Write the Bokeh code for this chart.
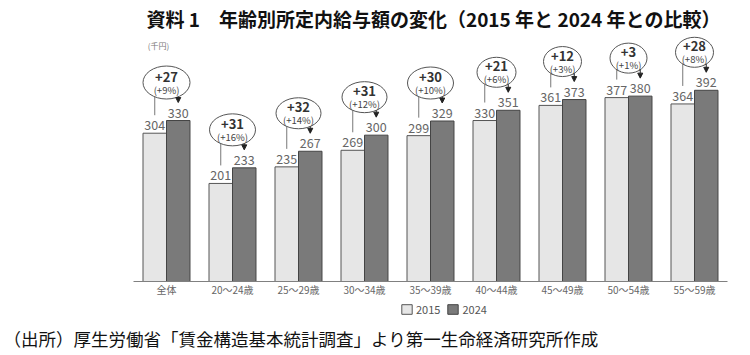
from bokeh.plotting import figure
from bokeh.models import (Range1d, FixedTicker, Label, Legend, LegendItem,
                          ColumnDataSource, Arrow, NormalHead)
from bokeh.embed import file_html
from bokeh.resources import INLINE
from bokeh.core.properties import value

# ---- data ----
categories = ["全体", "20～24歳", "25～29歳", "30～34歳", "35～39歳",
              "40～44歳", "45～49歳", "50～54歳", "55～59歳"]
v2015 = [304, 201, 235, 269, 299, 330, 361, 377, 364]
v2024 = [330, 233, 267, 300, 329, 351, 373, 380, 392]
diff_labels = ["+27", "+31", "+32", "+31", "+30", "+21", "+12", "+3", "+28"]
pct_labels = ["(+9%)", "(+16%)", "(+14%)", "(+12%)", "(+10%)", "(+6%)", "(+3%)", "(+1%)", "(+8%)"]
series_names = ["2015", "2024"]

# ---- styles / layout ----
FONT = "Noto Sans CJK JP"
ell_w = [47, 46, 45, 45, 46, 39, 38, 37, 38]
ell_h = [33, 32, 31, 31, 32, 30, 30, 30, 30]
C15, L15 = "#e6e6e6", "#555555"
C24, L24 = "#7a7a7a", "#444444"

W, H = 750, 355
PLOT_L, PLOT_R = 133, 727        # screen x of category band
BASE_Y = 281                     # screen y (from top) of zero line
n = len(categories)
cat_px = (PLOT_R - PLOT_L) / n
x0 = -0.5 - PLOT_L / cat_px
x1 = x0 + W / cat_px
yscale = 0.4878                  # px per thousand yen
y0 = -(H - BASE_Y) / yscale
y1 = y0 + H / yscale
PX = 1 / yscale                  # data units per pixel
off = 0.178
bw = 0.356

p = figure(width=W, height=H, x_range=Range1d(x0, x1), y_range=Range1d(y0, y1),
           output_backend="svg", toolbar_location=None, y_axis_location=None,
           min_border=0)
p.outline_line_color = None
p.xgrid.visible = False
p.ygrid.visible = False

idx = list(range(n))
x15 = [i - off for i in idx]
x24 = [i + off for i in idx]

r15 = p.vbar(x=x15, top=v2015, width=bw, fill_color=C15, line_color=L15, line_width=1)
r24 = p.vbar(x=x24, top=v2024, width=bw, fill_color=C24, line_color=L24, line_width=1)

# baseline spanning the category band
p.segment(x0=[-0.5], y0=[0], x1=[n - 0.5], y1=[0], line_color="#808080", line_width=1)

# value labels
for xs, vals in ((x15, v2015), (x24, v2024)):
    p.text(x=xs, y=vals, text=[str(v) for v in vals], text_align="center", text_baseline="bottom",
           y_offset=-3, text_font=value(FONT), text_font_size="12.5px", text_color="#666666")

# ellipses with connectors
ey = [v + 38 * PX for v in v2024]
dx_px = off * cat_px
edge = []
for w, h in zip(ell_w, ell_h):
    a, b = w / 2, h / 2
    r = max(0.0, 1 - (dx_px / a) ** 2)
    edge.append(b * r ** 0.5)

p.segment(x0=x15, y0=[v + 18 * PX for v in v2015], x1=x15,
          y1=[c - e * PX for c, e in zip(ey, edge)], line_color="#777777", line_width=1)

asrc = ColumnDataSource(dict(x=x24, y0=[c - e * PX for c, e in zip(ey, edge)],
                             y1=[v + 18 * PX for v in v2024]))
p.add_layout(Arrow(end=NormalHead(size=5, fill_color="#222222", line_color="#222222"),
                   x_start="x", y_start="y0", x_end="x", y_end="y1", source=asrc,
                   line_color="#222222", line_width=1))

p.ellipse(x=idx, y=ey, width=ell_w, height=ell_h, width_units="screen", height_units="screen",
          fill_color="white", line_color="#555555", line_width=1)
p.text(x=idx, y=ey, text=diff_labels, y_offset=-6, text_align="center", text_baseline="middle",
       text_font=value(FONT), text_font_style="bold", text_font_size="13px", text_color="#333333")
p.text(x=idx, y=ey, text=pct_labels, y_offset=7, text_align="center", text_baseline="middle",
       text_font=value(FONT), text_font_size="9.5px", text_color="#444444")

# category axis drawn at the zero line
ax = p.xaxis[0]
ax.fixed_location = 0
ax.ticker = FixedTicker(ticks=idx)
ax.major_label_overrides = {i: c for i, c in enumerate(categories)}
ax.major_tick_line_color = None
ax.minor_tick_line_color = None
ax.major_tick_out = 0
ax.major_tick_in = 0
ax.minor_tick_out = 0
ax.axis_line_color = None
ax.major_label_text_font = FONT
ax.major_label_text_font_size = "10px"
ax.major_label_text_color = "#666666"
ax.major_label_standoff = 0

# legend
legend = Legend(items=[LegendItem(label=series_names[0], renderers=[r15]),
                       LegendItem(label=series_names[1], renderers=[r24])],
                location=(400, H - 317), orientation="horizontal", glyph_width=13, glyph_height=12,
                label_height=12, label_standoff=3, spacing=6, padding=0, margin=0,
                border_line_color=None, background_fill_alpha=0,
                label_text_font=FONT, label_text_font_size="11px", label_text_color="#555555")
p.add_layout(legend)

# texts
p.add_layout(Label(x=433, y=H - 18, x_units="screen", y_units="screen",
                   text="資料 1　年齢別所定内給与額の変化（2015 年と 2024 年との比較）",
                   text_align="center", text_baseline="middle", text_font=FONT,
                   text_font_size="19px", text_font_style="bold", text_color="#111111"))
p.add_layout(Label(x=158, y=H - 45, x_units="screen", y_units="screen", text="(千円)",
                   text_align="center", text_baseline="middle", text_font=FONT,
                   text_font_size="8px", text_color="#777777"))
p.add_layout(Label(x=3, y=H - 338, x_units="screen", y_units="screen",
                   text="（出所）厚生労働省「賃金構造基本統計調査」より第一生命経済研究所作成",
                   text_align="left", text_baseline="middle", text_font=FONT,
                   text_font_size="17.5px", text_color="#111111"))

open("out.html", "w").write(file_html(p, INLINE))
